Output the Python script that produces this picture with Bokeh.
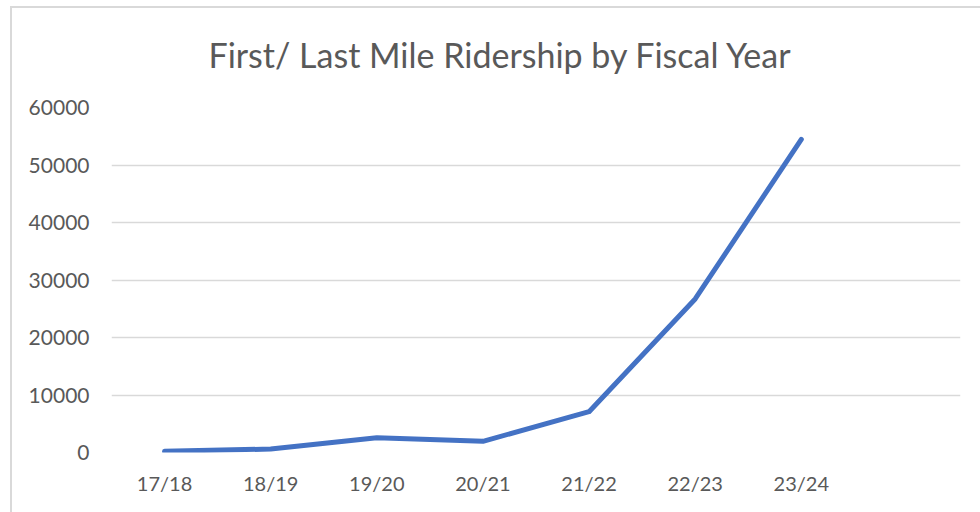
from bokeh.plotting import figure
from bokeh.models import FactorRange, Range1d, SingleIntervalTicker, Title
from bokeh.embed import file_html
from bokeh.resources import INLINE

categories = ["17/18", "18/19", "19/20", "20/21", "21/22", "22/23", "23/24"]
ridership = [200, 600, 2550, 1950, 7100, 26700, 54450]
blank_slot = " "
title_text = "First/ Last Mile Ridership by Fiscal Year"

FONT = "Lato"
TXT = "#595959"
EDGE = "#d9d9d9"

p = figure(width=980, height=512, output_backend="svg", toolbar_location=None,
           x_range=FactorRange(*categories, blank_slot, range_padding=0),
           y_range=Range1d(0, 60000),
           min_border_left=111, min_border_right=20, min_border_top=107, min_border_bottom=60)
p.outline_line_color = None
p.background_fill_color = "white"
p.border_fill_color = None
p.styles = {
    "background": (f"linear-gradient({EDGE},{EDGE}) 10px 6px / 2px 100% no-repeat, "
                   f"linear-gradient({EDGE},{EDGE}) 10px 6px / 100% 2px no-repeat, white"),
}

p.line(categories, ridership, line_color="#4472C4", line_width=5,
       line_cap="round", line_join="round")

p.xgrid.visible = False
p.ygrid.grid_line_color = EDGE
p.ygrid.grid_line_width = 1.5

for ax in (p.xaxis[0], p.yaxis[0]):
    ax.axis_line_color = None
    ax.major_tick_line_color = None
    ax.minor_tick_line_color = None
    ax.major_label_text_color = TXT
    ax.major_label_text_font = FONT

p.yaxis[0].major_label_text_font_size = "21px"
p.xaxis[0].major_label_text_font_size = "20px"
p.yaxis[0].ticker = SingleIntervalTicker(interval=10000)
p.yaxis[0].major_label_standoff = 16
p.xaxis[0].major_label_standoff = 12

p.title = Title(text=title_text, align="left", offset=97, standoff=62,
                vertical_align="top",
                text_font=FONT, text_font_size="34px", text_font_style="normal",
                text_color=TXT)

open("out.html", "w").write(file_html(p, INLINE))
